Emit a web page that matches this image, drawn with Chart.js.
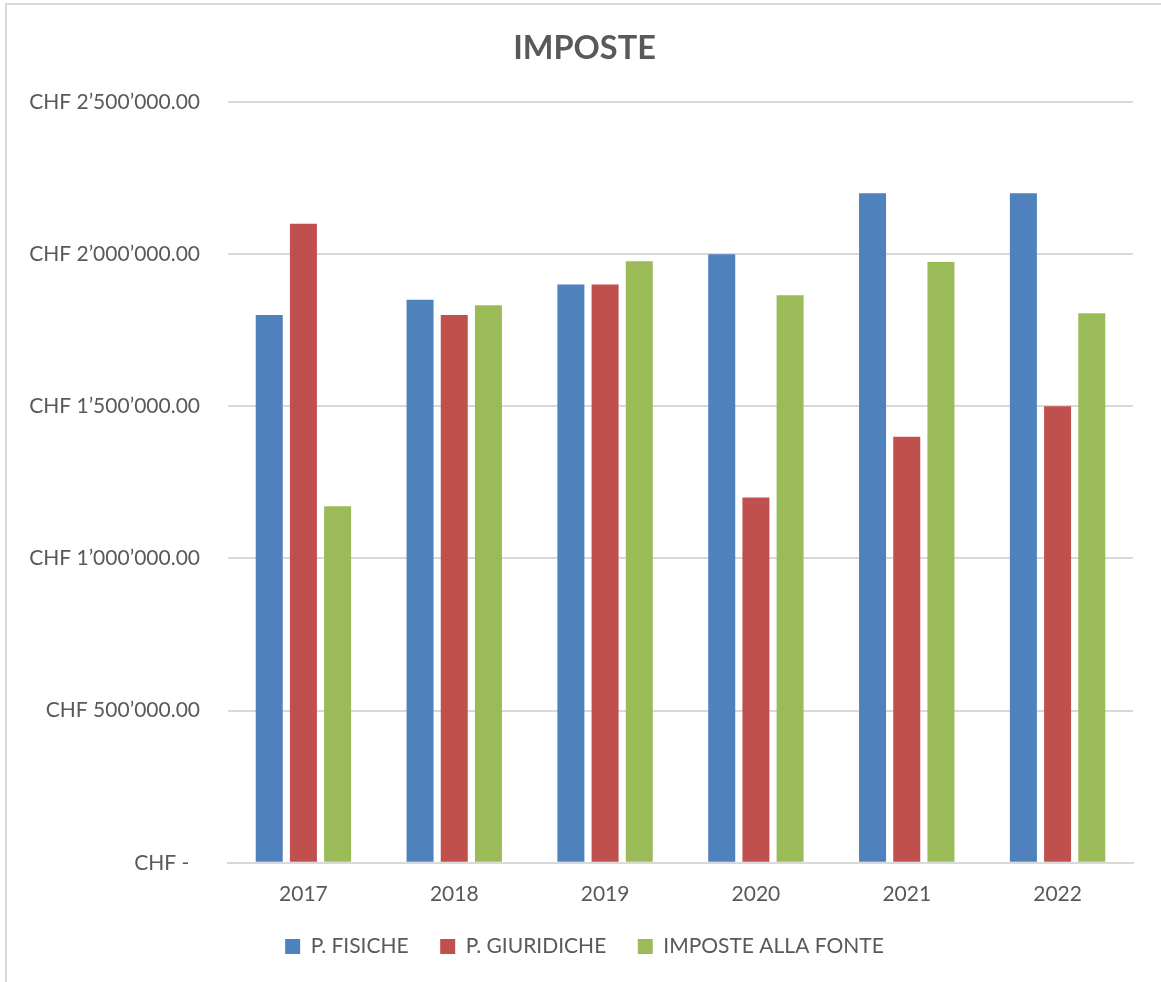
<!DOCTYPE html>
<html>
<head>
<meta charset="utf-8">
<script src="https://cdn.jsdelivr.net/npm/chart.js@4/dist/chart.umd.min.js"></script>
<style>
  html, body { margin: 0; padding: 0; background: #fff; }
  #wrap { position: relative; width: 1161px; height: 982px; overflow: hidden; }
  #frame { position: absolute; left: 5px; top: 3px; width: 1200px; height: 1100px;
           border-left: 2px solid #d9d9d9; border-top: 2px solid #d9d9d9; }
  canvas { position: absolute; left: 0; top: 0; }
</style>
</head>
<body>
<div id="wrap">
  <div id="frame"></div>
  <canvas id="chart" width="1161" height="982"></canvas>
</div>
<script>
// dati
const anni = ['2017', '2018', '2019', '2020', '2021', '2022'];
const fisiche = [1800000, 1850000, 1900000, 2000000, 2200000, 2200000];
const giuridiche = [2100000, 1800000, 1900000, 1200000, 1400000, 1500000];
const allaFonte = [1172000, 1832000, 1977000, 1865000, 1974000, 1806000];
const nomiSerie = ['P. FISICHE', 'P. GIURIDICHE', 'IMPOSTE ALLA FONTE'];
const coloriSerie = ['#4f81bd', '#c0504d', '#9bbb59'];

const grigio = '#595959';
const font = 'Lato';

function formatoCHF(v) {
    if (v === 0) return 'CHF -  ';
    const s = Math.round(v).toString().replace(/\B(?=(\d{3})+(?!\d))/g, '\u2019');
    return 'CHF ' + s + '.00';
}

const ctx = document.getElementById('chart').getContext('2d');
const chart = new Chart(ctx, {
    type: 'bar',
    data: {
        labels: anni,
        datasets: [fisiche, giuridiche, allaFonte].map(function (d, i) {
            return {
                label: nomiSerie[i],
                data: d,
                backgroundColor: coloriSerie[i],
                categoryPercentage: 0.68,
                barPercentage: 0.79
            };
        })
    },
    options: {
        responsive: false,
        animation: false,
        layout: { padding: { left: 8, right: 0, top: 0, bottom: 15 } },
        plugins: {
            title: {
                display: true,
                text: 'IMPOSTE',
                color: grigio,
                font: { family: font, size: 32.5, weight: 'bold' },
                padding: { top: 29, bottom: 34 }
            },
            legend: {
                position: 'bottom',
                labels: {
                    color: grigio,
                    font: { family: font, size: 21 },
                    boxWidth: 15,
                    boxHeight: 15,
                    padding: 10,
                    // spazio extra tra le voci della legenda
                    generateLabels: function (c) {
                        const items = Chart.defaults.plugins.legend.labels.generateLabels(c);
                        items.forEach(function (it, i) {
                            if (i < items.length - 1) it.text = it.text + '    ';
                        });
                        return items;
                    }
                }
            },
            tooltip: { enabled: false }
        },
        scales: {
            x: {
                grid: { display: false, drawTicks: false },
                border: { color: '#d9d9d9', width: 2 },
                ticks: { color: grigio, font: { family: font, size: 21 }, padding: 19 }
            },
            y: {
                min: 0,
                max: 2500000,
                afterFit: function (scale) { scale.width = 220; },
                grid: { color: '#d9d9d9', lineWidth: 2, drawTicks: false },
                border: { display: false },
                ticks: {
                    stepSize: 500000,
                    color: grigio,
                    font: { family: font, size: 21 },
                    padding: 28,
                    callback: function (v) { return formatoCHF(v); }
                }
            },
            // asse vuoto a destra, solo per il margine
            margine: {
                position: 'right',
                afterFit: function (scale) { scale.width = 28; },
                grid: { display: false, drawTicks: false },
                border: { display: false },
                ticks: { display: false }
            }
        }
    }
});
</script>
</body>
</html>
